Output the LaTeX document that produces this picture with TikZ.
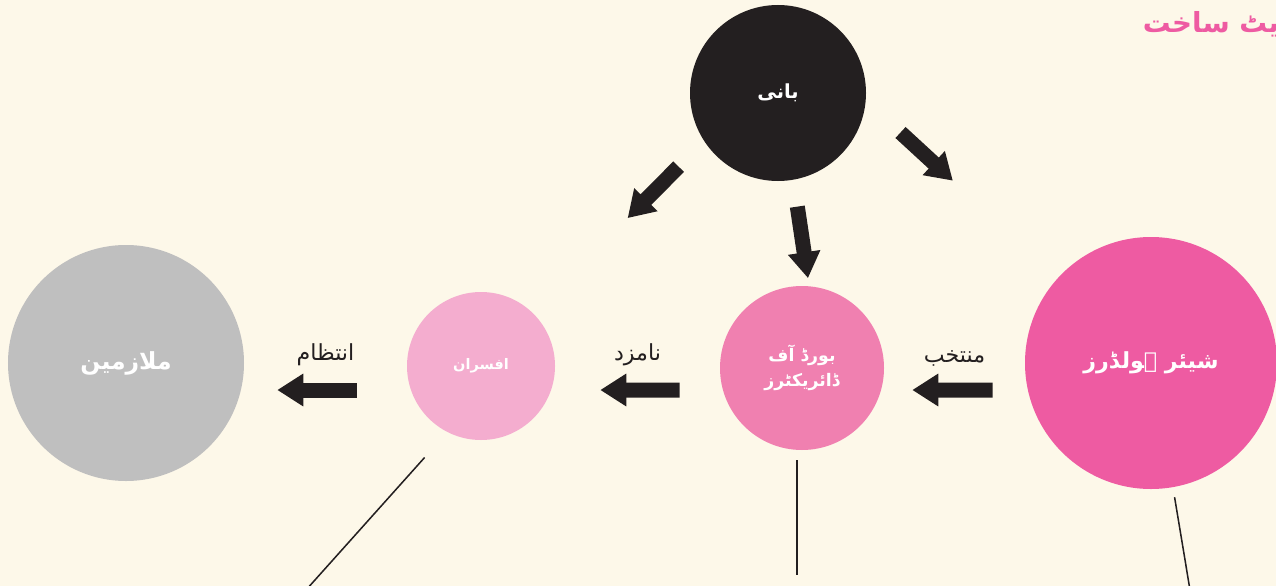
\documentclass[tikz,border=0pt]{standalone}
\usepackage{fontspec}
\usepackage{tikz}
\usetikzlibrary{arrows.meta}
\newfontfamily\urdufont[Script=Arabic]{DejaVu Sans}
\TeXXeTstate=1
\tikzset{>={Triangle[length=0.26in,width=0.31in]}}
\tikzset{
  orgcircle/.style={shape=circle,inner sep=0pt,text=white,align=center},
  bigarrow/.style={->,line width=0.15in,draw={rgb,255:red,35;green,31;blue,32}},
  leader/.style={line width=1.1pt,draw={rgb,255:red,35;green,31;blue,32}},
  arrowlabel/.style={font=\urdufont\fontsize{16}{18}\selectfont,text={rgb,255:red,35;green,31;blue,32}}
}

\begin{document}
\begin{tikzpicture}

\path[use as bounding box,fill={rgb,255:red,253;green,248;blue,233}] (0in,0in) rectangle (12.76in,-5.86in);

\path (11.38in,-0.25in) node (title) [anchor=west,text={rgb,255:red,238;green,91;blue,162},font=\urdufont\bfseries\fontsize{20}{24}\selectfont]{\beginR کارپوریٹ ساخت\endR};

\path (7.78in,-0.93in) node (bani) [orgcircle,fill={rgb,255:red,35;green,31;blue,32},minimum size=1.76in,font=\urdufont\bfseries\fontsize{14}{17}\selectfont]{\beginR بانی\endR};

\path (11.51in,-3.63in) node (holders) [orgcircle,fill={rgb,255:red,238;green,91;blue,162},minimum size=2.52in,font=\urdufont\bfseries\fontsize{16}{19}\selectfont]{\beginR شیئر ہولڈرز\endR};

\path (8.02in,-3.68in) node (board) [orgcircle,fill={rgb,255:red,240;green,128;blue,176},minimum size=1.64in,font=\urdufont\bfseries\fontsize{12.5}{18}\selectfont]{\beginR بورڈ آف\endR\\\beginR ڈائریکٹرز\endR};

\path (4.81in,-3.66in) node (officers) [orgcircle,fill={rgb,255:red,244;green,173;blue,207},minimum size=1.48in,font=\urdufont\bfseries\fontsize{10.5}{13}\selectfont]{\beginR افسران\endR};

\path (1.26in,-3.63in) node (employees) [orgcircle,fill={rgb,255:red,191;green,191;blue,191},minimum size=2.36in,font=\urdufont\bfseries\fontsize{17}{20}\selectfont]{\beginR ملازمین\endR};

\path (3.06in,-5.90in) coordinate (officersend);
\path (7.97in,-5.75in) coordinate (boardend);
\path (11.90in,-5.90in) coordinate (holdersend);

\draw[bigarrow,shorten <=0.36in,shorten >=1.34in] (bani.213) -- (officers);
\draw[bigarrow,shorten <=0.27in,shorten >=0.08in] (bani.280) -- (board.85);
\draw[bigarrow,shorten <=0.47in,shorten >=1.43in] (bani.-5) -- (holders);

\draw[bigarrow,shorten <=0.32in,shorten >=0.28in] ([yshift=-0.27in]holders.west) -- ([yshift=-0.22in]board.east)
  node (elect) [arrowlabel,midway,above=0.12in]{\beginR منتخب\endR};
\draw[bigarrow,shorten <=0.40in,shorten >=0.45in] ([yshift=-0.22in]board.west) -- ([yshift=-0.24in]officers.east)
  node (nominate) [arrowlabel,midway,above=0.12in]{\beginR نامزد\endR};
\draw[bigarrow,shorten <=0.50in,shorten >=0.33in] ([yshift=-0.24in]officers.west) -- ([yshift=-0.27in]employees.east)
  node (manage) [arrowlabel,midway,above=0.12in]{\beginR انتظام\endR};

\draw[leader,shorten <=0.34in] (officers.243) -- (officersend);
\draw[leader,shorten <=0.10in] (board.south -| boardend) -- (boardend);
\draw[leader,shorten <=0.10in] (holders.280) -- (holdersend);

\end{tikzpicture}
\end{document}
